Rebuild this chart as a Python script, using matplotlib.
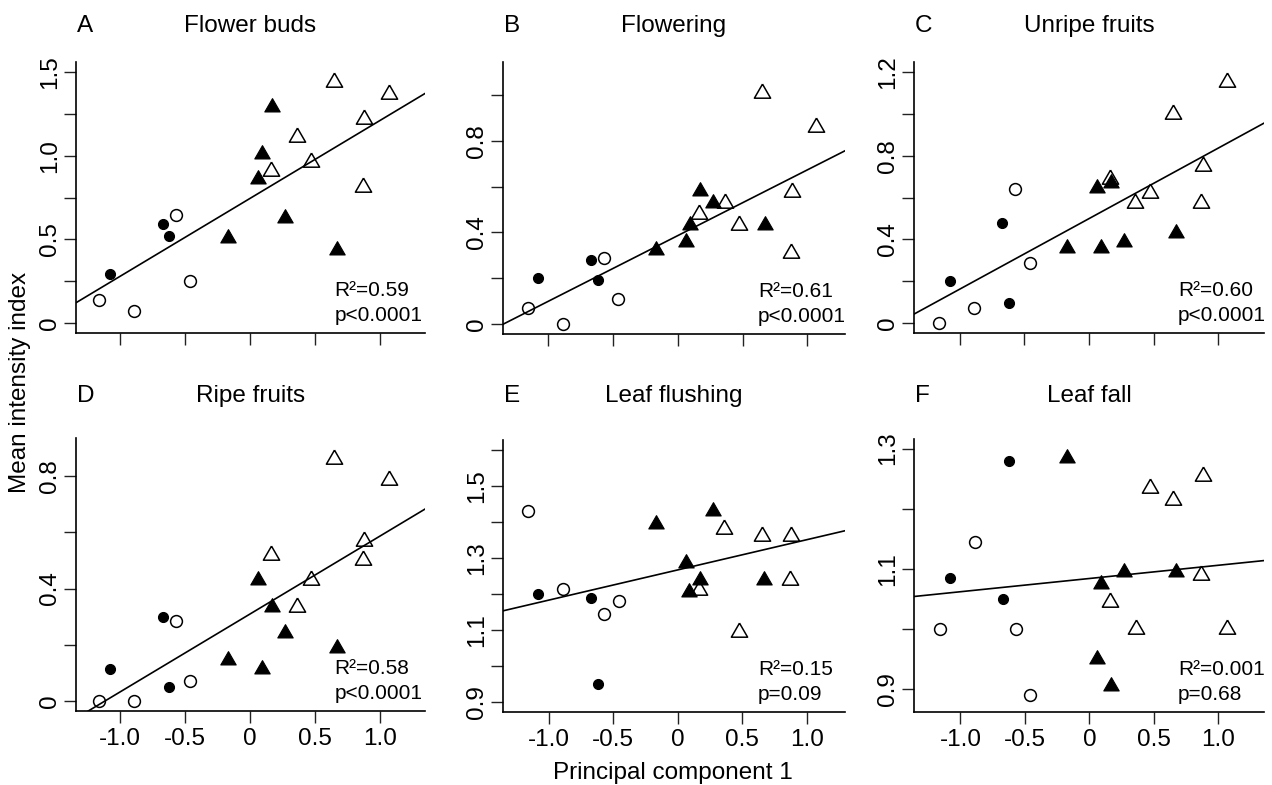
import numpy as np
import matplotlib
matplotlib.use("Agg")
import matplotlib.pyplot as plt

plt.rcParams['font.family'] = ['Liberation Sans', 'DejaVu Sans']
plt.rcParams['axes.unicode_minus'] = False

# PC1 score of each site, by group
pc1_filled_circ = [-1.08, -0.67, -0.62]
pc1_open_circ = [-1.16, -0.89, -0.57, -0.46]
pc1_filled_tri = [-0.17, 0.06, 0.09, 0.17, 0.27, 0.67]
pc1_open_tri = [0.16, 0.36, 0.47, 0.65, 0.88, 0.87, 1.07]

# mean intensity index per panel: (filled circles, open circles, filled triangles, open triangles)
buds = ([0.29, 0.59, 0.52],
        [0.14, 0.07, 0.645, 0.25],
        [0.51, 0.86, 1.01, 1.29, 0.63, 0.435],
        [0.91, 1.11, 0.96, 1.44, 1.22, 0.81, 1.37])
flowering = ([0.20, 0.28, 0.19],
             [0.07, 0.0, 0.29, 0.11],
             [0.325, 0.36, 0.43, 0.58, 0.53, 0.43],
             [0.48, 0.53, 0.43, 1.01, 0.575, 0.31, 0.86])
unripe = ([0.20, 0.48, 0.095],
          [0.0, 0.07, 0.64, 0.285],
          [0.36, 0.645, 0.36, 0.67, 0.385, 0.43],
          [0.69, 0.575, 0.62, 1.00, 0.75, 0.575, 1.15])
ripe = ([0.115, 0.30, 0.05],
        [0.0, 0.0, 0.285, 0.07],
        [0.145, 0.43, 0.115, 0.335, 0.24, 0.19],
        [0.52, 0.335, 0.43, 0.86, 0.57, 0.50, 0.785])
flushing = ([1.20, 1.19, 0.95],
            [1.43, 1.215, 1.145, 1.18],
            [1.395, 1.285, 1.205, 1.24, 1.43, 1.24],
            [1.21, 1.38, 1.095, 1.36, 1.36, 1.24, np.nan])
leaf_fall = ([1.085, 1.05, 1.28],
             [1.0, 1.145, 1.0, 0.89],
             [1.285, 0.95, 1.075, 0.905, 1.095, 1.095],
             [1.045, 1.0, 1.235, 1.215, 1.255, 1.09, 1.0])

# fitted regression lines
fit_slope = [0.465, 0.287, 0.337, 0.277, 0.084, 0.022]
fit_icpt = [0.744, 0.386, 0.499, 0.309, 1.267, 1.084]

letters = ["A", "B", "C", "D", "E", "F"]
titles = ["Flower buds", "Flowering", "Unripe fruits", "Ripe fruits", "Leaf flushing", "Leaf fall"]
r2_text = ["R²=0.59", "R²=0.61", "R²=0.60", "R²=0.58", "R²=0.15", "R²=0.001"]
p_text = ["p<0.0001", "p<0.0001", "p<0.0001", "p<0.0001", "p=0.09", "p=0.68"]

yticks = [[0, 0.25, 0.5, 0.75, 1.0, 1.25, 1.5],
          [0, 0.2, 0.4, 0.6, 0.8, 1.0],
          [0, 0.2, 0.4, 0.6, 0.8, 1.0, 1.2],
          [0, 0.2, 0.4, 0.6, 0.8],
          [0.9, 1.0, 1.1, 1.2, 1.3, 1.4, 1.5, 1.6],
          [0.9, 1.0, 1.1, 1.2, 1.3]]
yticklabels = [["0", "", "0.5", "", "1.0", "", "1.5"],
               ["0", "", "0.4", "", "0.8", ""],
               ["0", "", "0.4", "", "0.8", "", "1.2"],
               ["0", "", "0.4", "", "0.8"],
               ["0.9", "", "1.1", "", "1.3", "", "1.5", ""],
               ["0.9", "", "1.1", "", "1.3"]]
xticks = [-1.0, -0.5, 0, 0.5, 1.0]
xticklabels = ["-1.0", "-0.5", "0", "0.5", "1.0"]

panels = [buds, flowering, unripe, ripe, flushing, leaf_fall]

W, H = 1272, 785
fig = plt.figure(figsize=(W / 100, H / 100), dpi=100)

# axes boxes in pixels: left, top, right, bottom
boxes = [(76, 62, 425, 333), (503, 62, 845, 334), (914, 62, 1264, 333),
         (76, 438, 425, 711), (503, 440, 845, 712), (914, 439, 1264, 712)]
xlims = [(-1.34, 1.35), (-1.35, 1.29), (-1.355, 1.355),
         (-1.34, 1.35), (-1.355, 1.295), (-1.36, 1.355)]
ylims = [(-0.06, 1.56), (-0.044, 1.144), (-0.048, 1.248),
         (-0.036, 0.936), (0.872, 1.628), (0.862, 1.316)]
title_base = [32, 32, 32, 402, 402, 402]

# equilateral triangle like R's pch 2 / 17
tri = [(0, 0.577), (-0.5, -0.289), (0.5, -0.289), (0, 0.577)]

groups_x = [pc1_filled_circ, pc1_open_circ, pc1_filled_tri, pc1_open_tri]
styles = [dict(marker='o', ms=7.2, mfc='black', mec='black', mew=0.8),
          dict(marker='o', ms=8.5, mfc='none', mec='black', mew=1.1),
          dict(marker=tri, ms=12.8, mfc='black', mec='black', mew=0.8),
          dict(marker=tri, ms=13.5, mfc='none', mec='black', mew=1.1)]

for i, data in enumerate(panels):
    l, t, r, b = boxes[i]
    ax = fig.add_axes([l / W, 1 - b / H, (r - l) / W, (b - t) / H])
    for xs, ys, st in zip(groups_x, data, styles):
        ax.plot(xs, ys, linestyle='none', **st)

    ax.axline((0, fit_icpt[i]), slope=fit_slope[i], color='black', lw=1.2)

    ax.set_xlim(*xlims[i])
    ax.set_ylim(*ylims[i])
    ax.set_xticks(xticks)
    ax.set_xticklabels(xticklabels if i >= 3 else [])
    ax.set_yticks(yticks[i])
    ax.set_yticklabels(yticklabels[i], rotation=90, va='center')
    ax.tick_params(length=8.5, width=1.0, labelsize=17.5, color='#222222')
    ax.tick_params(axis='y', pad=2.5)
    ax.tick_params(axis='x', pad=3.5)
    for s in ['top', 'right']:
        ax.spines[s].set_visible(False)
    for s in ['left', 'bottom']:
        ax.spines[s].set_linewidth(1.2)

    fx = 0.74 if i % 3 == 0 else (0.746 if i % 3 == 1 else 0.754)
    ax.text(fx, 0.137, r2_text[i], transform=ax.transAxes, fontsize=15,
            ha='left', va='baseline')
    ax.text(fx, 0.045, p_text[i], transform=ax.transAxes, fontsize=15,
            ha='left', va='baseline')

    fig.text((l + 1) / W, 1 - title_base[i] / H, letters[i], fontsize=17.5,
             ha='left', va='baseline')
    fig.text((l + r) / 2 / W, 1 - title_base[i] / H, titles[i], fontsize=17.5,
             ha='center', va='baseline')

fig.text(20 / W, 1 - 382 / H, "Mean intensity index", fontsize=17.5,
         rotation=90, ha='center', va='center')
fig.text(673 / W, 1 - 779 / H, "Principal component 1", fontsize=17.5,
         ha='center', va='baseline')

fig.savefig("out.png", dpi=100)
